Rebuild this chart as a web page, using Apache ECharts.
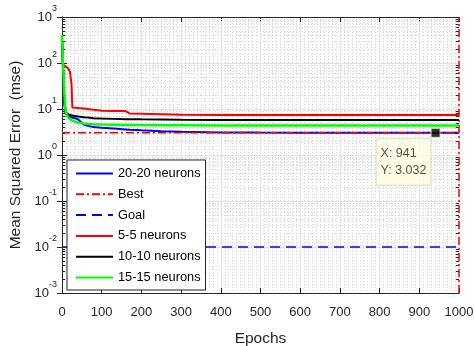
<!DOCTYPE html>
<html>
<head>
<meta charset="utf-8">
<script src="https://cdn.jsdelivr.net/npm/echarts@6/dist/echarts.min.js"></script>
<style>
  html, body { margin: 0; padding: 0; background: #fff; }
  #chart { width: 475px; height: 346px; }
</style>
</head>
<body>
<div id="chart"></div>
<script>
// epochs shared by the training curves
var epochs = [0, 3, 6, 9, 12, 16, 20, 24, 26, 30, 40, 55, 65, 80, 100, 130, 160, 170, 200, 250, 300, 400, 500, 600, 700, 800, 900, 941, 1000];
// mse per network size
var mse20 = [300, 50, 12, 8.2, 7.6, 7.1, 6.8, 6.6, 6.5, 6.4, 6.0, 4.6, 4.3, 4.05, 3.9, 3.75, 3.6, 3.55, 3.45, 3.3, 3.2, 3.1, 3.07, 3.05, 3.04, 3.035, 3.033, 3.032, 3.032];
var mse5  = [350, 90, 86, 85, 84, 75, 64, 35, 10.8, 10.7, 10.5, 10.2, 10.0, 9.6, 9.2, 9.1, 9.0, 8.0, 7.9, 7.7, 7.5, 7.4, 7.4, 7.4, 7.4, 7.4, 7.4, 7.4, 7.4];
var mse10 = [330, 60, 15, 8.5, 7.8, 7.6, 7.4, 7.3, 7.2, 7.1, 6.9, 6.6, 6.5, 6.3, 6.2, 6.1, 6.0, 6.0, 5.95, 5.9, 5.85, 5.8, 5.8, 5.8, 5.8, 5.8, 5.8, 5.8, 5.8];
var mse15 = [400, 80, 20, 9, 7.4, 6.5, 6.0, 5.7, 5.6, 5.4, 5.1, 4.85, 4.75, 4.65, 4.6, 4.55, 4.5, 4.5, 4.48, 4.46, 4.45, 4.4, 4.4, 4.4, 4.4, 4.4, 4.4, 4.4, 4.4];
var bestVal = 3.032;
var bestEpoch = 1000;
var goalVal = 0.01;
var tipPoint = [941, 3.032];
var decades = [0.001, 0.01, 0.1, 1, 10, 100];
var minorSteps = [2, 3, 4, 5, 6, 7, 8, 9];

var FONT = '"Liberation Sans", Arial, sans-serif';

function pairs(ys) {
    return epochs.map(function (e, i) { return [e, ys[i]]; });
}
// transparent symbol so legend shows the line only
function noFill() {
    return { color: 'rgba(0,0,0,0)', borderWidth: 0 };
}

// minor log grid lines + small inward ticks on both sides
var minorVals = [];
decades.forEach(function (d) {
    minorSteps.forEach(function (m) { minorVals.push(+(d * m).toPrecision(3)); });
});
var minorGrid = minorVals.map(function (v) { return { yAxis: v }; });
var minorTicks = [];
minorVals.forEach(function (v) {
    minorTicks.push([{ coord: [0, v] }, { coord: [8, v] }]);
    minorTicks.push([{ coord: [992, v] }, { coord: [1000, v] }]);
});

var chart = echarts.init(document.getElementById('chart'));
var option = {
    animation: false,
    textStyle: { fontFamily: FONT },
    grid: { left: 62, right: 16, top: 17, bottom: 53, containLabel: false, outerBoundsMode: 'none' },
    legend: {
        orient: 'vertical',
        left: 67,
        top: 160,
        z: 20,
        data: ['20-20 neurons', 'Best', 'Goal', '5-5 neurons', '10-10 neurons', '15-15 neurons'],
        itemWidth: 37,
        itemHeight: 14,
        itemGap: 7.8,
        padding: [7, 5, 6, 8],
        backgroundColor: '#fff',
        borderColor: '#262626',
        borderWidth: 1,
        textStyle: { fontFamily: FONT, fontSize: 12.8, color: '#000' }
    },
    xAxis: [{
        type: 'value',
        min: 0, max: 1000, interval: 100,
        name: 'Epochs',
        nameLocation: 'middle',
        nameGap: 38,
        nameTextStyle: { fontSize: 15.5, color: '#262626', fontFamily: FONT },
        axisLine: { lineStyle: { color: '#262626' } },
        axisTick: { inside: true, length: 5, lineStyle: { color: '#262626' } },
        axisLabel: { fontSize: 13, color: '#262626', margin: 13, formatter: function (v) { return String(v); } },
        splitLine: { lineStyle: { color: '#e3e3e3' } },
        minorTick: { show: false, splitNumber: 10 },
        minorSplitLine: { show: true, lineStyle: { color: '#d6d6d6', type: [1, 2] } }
    }, {
        type: 'value',
        position: 'top',
        min: 0, max: 1000, interval: 100,
        axisLine: { lineStyle: { color: '#262626' } },
        axisTick: { inside: true, length: 5, lineStyle: { color: '#262626' } },
        axisLabel: { show: false },
        splitLine: { show: false }
    }],
    yAxis: [{
        type: 'log',
        logBase: 10,
        min: 0.001, max: 1000,
        name: 'Mean Squared Error  (mse)',
        nameLocation: 'middle',
        nameGap: 34,
        nameTextStyle: { fontSize: 15.5, color: '#262626', fontFamily: FONT },
        axisLine: { lineStyle: { color: '#262626' } },
        axisTick: { inside: true, length: 5, lineStyle: { color: '#262626' } },
        axisLabel: {
            margin: 5,
            formatter: function (v) {
                return '{b|10}{s|' + Math.round(Math.log10(v)) + '}';
            },
            rich: {
                b: { fontSize: 13, color: '#262626', fontFamily: FONT, verticalAlign: 'middle', lineHeight: 26 },
                s: { fontSize: 9, color: '#262626', fontFamily: FONT, verticalAlign: 'top', lineHeight: 9 }
            }
        },
        splitLine: { lineStyle: { color: '#e3e3e3' } }
    }, {
        type: 'log',
        logBase: 10,
        min: 0.001, max: 1000,
        position: 'right',
        axisLine: { show: true, lineStyle: { color: '#262626' } },
        axisTick: { show: true, inside: true, length: 5, lineStyle: { color: '#262626' } },
        axisLabel: { show: false },
        splitLine: { show: false }
    }],
    series: [
        {
            name: 'minor grid',
            type: 'line',
            data: [],
            silent: true,
            z: 1,
            markLine: {
                silent: true, symbol: 'none', label: { show: false }, z: 1,
                lineStyle: { color: '#d6d6d6', type: [1, 2], width: 1 },
                data: minorGrid
            }
        },
        {
            name: 'minor ticks',
            type: 'line',
            data: [],
            silent: true,
            z: 1,
            markLine: {
                silent: true, symbol: 'none', label: { show: false }, z: 1,
                lineStyle: { color: '#262626', type: 'solid', width: 1 },
                data: minorTicks
            }
        },
        {
            name: '20-20 neurons', type: 'line', symbol: 'none',
            lineStyle: { color: '#0000ff', width: 2, type: 'solid' }, itemStyle: noFill(),
            data: pairs(mse20)
        },
        {
            name: 'Best', type: 'line', symbol: 'none',
            lineStyle: { color: '#ff0000', width: 1.5, type: [8, 3, 2, 3] }, itemStyle: noFill(),
            data: [[0, bestVal], [1000, bestVal]],
            markLine: {
                silent: true, symbol: 'none', label: { show: false }, z: 3,
                lineStyle: { color: '#ff0000', type: [8, 3, 2, 3], width: 1.5 },
                data: [{ xAxis: bestEpoch }]
            }
        },
        {
            name: 'Goal', type: 'line', symbol: 'none',
            lineStyle: { color: '#0000ff', width: 1.5, type: [10, 6] }, itemStyle: noFill(),
            data: [[0, goalVal], [1000, goalVal]]
        },
        {
            name: '5-5 neurons', type: 'line', symbol: 'none',
            lineStyle: { color: '#ff0000', width: 2, type: 'solid' }, itemStyle: noFill(),
            data: pairs(mse5)
        },
        {
            name: '10-10 neurons', type: 'line', symbol: 'none',
            lineStyle: { color: '#000000', width: 2, type: 'solid' }, itemStyle: noFill(),
            data: pairs(mse10)
        },
        {
            name: '15-15 neurons', type: 'line', symbol: 'none',
            lineStyle: { color: '#00ff00', width: 2.5, type: 'solid' }, itemStyle: noFill(),
            data: pairs(mse15)
        },
        {
            name: 'datatip', type: 'scatter', symbol: 'rect', symbolSize: 9,
            itemStyle: { color: '#000', borderColor: '#f0f0c8', borderWidth: 1 },
            z: 10,
            label: {
                show: true,
                position: [-54, 11],
                align: 'left',
                verticalAlign: 'top',
                formatter: 'X: ' + tipPoint[0] + '\nY: ' + tipPoint[1],
                fontFamily: FONT,
                fontSize: 12.5,
                lineHeight: 17,
                color: '#262626',
                backgroundColor: '#ffffe1',
                borderColor: '#d8d8c0',
                borderWidth: 1,
                padding: [6, 4, 6, 4]
            },
            data: [tipPoint]
        }
    ]
};
chart.setOption(option);
</script>
</body>
</html>
